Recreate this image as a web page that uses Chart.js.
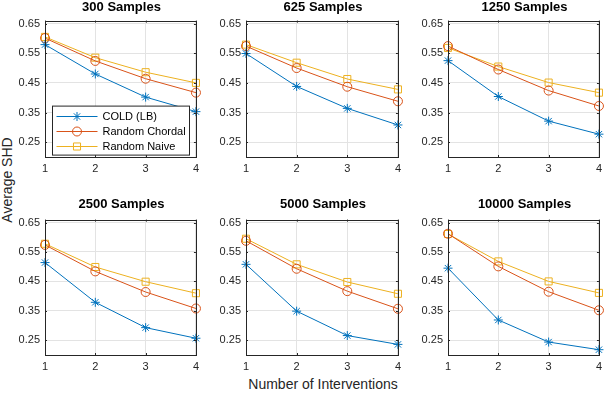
<!DOCTYPE html>
<html>
<head>
<meta charset="utf-8">
<script src="https://cdn.jsdelivr.net/npm/chart.js@4.4.1/dist/chart.umd.min.js"></script>
<style>
    body { margin: 0; background: #fff; font-family: 'Liberation Sans', Arial, Helvetica, sans-serif; }
    #wrap { position: relative; width: 607px; height: 397px; overflow: hidden; }
    #wrap canvas { position: absolute; }
    .title { position: absolute; font-weight: bold; font-size: 13px; color: #000; text-align: center; line-height: 13px; }
    .axis-label { position: absolute; font-size: 14px; color: #262626; white-space: nowrap; line-height: 14px; }
</style>
</head>
<body>
<div id="wrap">
    <div class="axis-label" id="ylab" style="left:7px; top:180px; transform: translate(-50%, -50%) rotate(-90deg);">Average SHD</div>
    <div class="axis-label" style="left:323px; top:384px; transform: translate(-50%, -50%);">Number of Interventions</div>
</div>
<script>
// ==================== DATA ====================
const interventions = ['1', '2', '3', '4'];
const panelTitles = ['300 Samples', '625 Samples', '1250 Samples', '2500 Samples', '5000 Samples', '10000 Samples'];
const seriesNames = ['COLD (LB)', 'Random Chordal', 'Random Naive'];
const yTicks = [0.25, 0.35, 0.45, 0.55, 0.65];

// one row per panel, in panelTitles order
const coldLB = [
    [0.579, 0.480, 0.402, 0.353],
    [0.549, 0.438, 0.364, 0.308],
    [0.525, 0.404, 0.321, 0.277],
    [0.514, 0.379, 0.293, 0.257],
    [0.508, 0.349, 0.266, 0.236],
    [0.495, 0.319, 0.244, 0.218]
];
const randomChordal = [
    [0.601, 0.524, 0.464, 0.417],
    [0.574, 0.500, 0.437, 0.388],
    [0.574, 0.495, 0.424, 0.372],
    [0.574, 0.484, 0.414, 0.358],
    [0.588, 0.493, 0.417, 0.357],
    [0.612, 0.501, 0.415, 0.352]
];
const randomNaive = [
    [0.605, 0.535, 0.486, 0.450],
    [0.579, 0.518, 0.463, 0.428],
    [0.568, 0.505, 0.451, 0.417],
    [0.578, 0.499, 0.449, 0.410],
    [0.595, 0.508, 0.448, 0.408],
    [0.611, 0.518, 0.450, 0.411]
];

// ==================== LAYOUT ====================
const colLeft = [45, 246, 448];
const colRight = [198, 400, 601];
const rowTop = [15, 214];
const rowBottom = [157, 355];
const titleY = [6, 203];
const Y_AXIS_W = 45, X_AXIS_H = 22, PAD = 6;

const axisColor = '#262626';
const tickFont = { family: "'Liberation Sans', Arial, Helvetica, sans-serif", size: 11 };

const seriesStyle = [
    { color: '#0072BD', pointStyle: 'star', radius: 4.5 },
    { color: '#D95319', pointStyle: 'circle', radius: 4.5 },
    { color: '#EDB120', pointStyle: 'rect', radius: 5 }
];

// box around plot + small inward ticks (matlab look)
const boxPlugin = {
    id: 'boxPlugin',
    afterDatasetsDraw(chart) {
        const { ctx, chartArea: a, scales } = chart;
        ctx.save();
        ctx.strokeStyle = axisColor;
        ctx.lineWidth = 1;
        ctx.beginPath();
        yTicks.forEach(v => {
            const y = Math.round(scales.y.getPixelForValue(v)) + 0.5;
            ctx.moveTo(a.left, y); ctx.lineTo(a.left + 2, y);
            ctx.moveTo(a.right, y); ctx.lineTo(a.right - 2, y);
        });
        interventions.forEach((_, i) => {
            const x = Math.round(scales.x.getPixelForValue(i)) + 0.5;
            ctx.moveTo(x, a.bottom); ctx.lineTo(x, a.bottom - 2);
            ctx.moveTo(x, a.top); ctx.lineTo(x, a.top + 2);
        });
        ctx.stroke();
        ctx.strokeRect(Math.round(a.left) + 0.5, Math.round(a.top) + 0.5,
            Math.round(a.right - a.left), Math.round(a.bottom - a.top));
        ctx.restore();
    }
};

// legend box drawn inside the first panel
const insideLegend = {
    id: 'insideLegend',
    afterDraw(chart, args, opts) {
        if (!opts.show) return;
        const { ctx, chartArea: a } = chart;
        const x0 = a.left + 7.5, y0 = a.top + 85.5, w = 137, h = 49;
        ctx.save();
        ctx.fillStyle = '#fff';
        ctx.fillRect(x0, y0, w, h);
        ctx.strokeStyle = axisColor;
        ctx.lineWidth = 1;
        ctx.strokeRect(x0, y0, w, h);
        ctx.font = "11px 'Liberation Sans', Arial, Helvetica, sans-serif";
        ctx.textBaseline = 'middle';
        chart.data.datasets.forEach((ds, i) => {
            const y = Math.round(y0 + 10 + i * 15) + 0.5;
            ctx.strokeStyle = ds.borderColor;
            ctx.lineWidth = 1;
            ctx.beginPath();
            ctx.moveTo(x0 + 4, y);
            ctx.lineTo(x0 + 45, y);
            ctx.stroke();
            ctx.fillStyle = 'rgba(0,0,0,0)';
            ctx.strokeStyle = ds.pointBorderColor;
            Chart.helpers.drawPoint(ctx, {
                pointStyle: ds.pointStyle, radius: ds.pointRadius, borderWidth: 1, rotation: 0
            }, x0 + 24.5, y);
            ctx.fillStyle = '#000';
            ctx.fillText(ds.label, x0 + 50, y);
        });
        ctx.restore();
    }
};

// ==================== CHARTS ====================
const wrap = document.getElementById('wrap');

panelTitles.forEach((title, p) => {
    const r = Math.floor(p / 3), c = p % 3;
    const L = colLeft[c], R = colRight[c], T = rowTop[r], B = rowBottom[r];

    const canvas = document.createElement('canvas');
    const cw = (R - L) + Y_AXIS_W + PAD, chh = (B - T) + PAD + X_AXIS_H;
    canvas.width = cw; canvas.height = chh;
    canvas.style.left = (L - Y_AXIS_W) + 'px';
    canvas.style.top = (T - PAD) + 'px';
    canvas.style.width = cw + 'px';
    canvas.style.height = chh + 'px';
    wrap.appendChild(canvas);

    const t = document.createElement('div');
    t.className = 'title';
    t.textContent = title;
    t.style.left = L + 'px';
    t.style.width = (R - L) + 'px';
    t.style.top = (titleY[r] - 6) + 'px';
    wrap.appendChild(t);

    const rows = [coldLB[p], randomChordal[p], randomNaive[p]];
    new Chart(canvas, {
        type: 'line',
        data: {
            labels: interventions,
            datasets: rows.map((vals, i) => ({
                label: seriesNames[i],
                data: vals,
                borderColor: seriesStyle[i].color,
                borderWidth: 1,
                backgroundColor: 'rgba(0,0,0,0)',
                pointStyle: seriesStyle[i].pointStyle,
                pointRadius: seriesStyle[i].radius,
                pointBorderColor: seriesStyle[i].color,
                pointBackgroundColor: 'rgba(0,0,0,0)',
                pointBorderWidth: 1,
                tension: 0,
                fill: false
            }))
        },
        options: {
            responsive: false,
            animation: false,
            devicePixelRatio: 1,
            layout: { padding: { top: PAD, right: PAD, left: 0, bottom: 0 }, autoPadding: false },
            plugins: {
                legend: { display: false },
                tooltip: { enabled: false },
                insideLegend: { show: p === 0 }
            },
            scales: {
                x: {
                    type: 'category',
                    offset: false,
                    grid: { color: '#e3e3e3', drawTicks: false },
                    border: { display: false },
                    ticks: { color: axisColor, font: tickFont, padding: 5, maxRotation: 0 },
                    afterFit: s => { s.height = X_AXIS_H; }
                },
                y: {
                    min: 0.2,
                    max: 0.66,
                    grid: { color: '#e3e3e3', drawTicks: false },
                    border: { display: false },
                    afterBuildTicks: s => { s.ticks = yTicks.map(v => ({ value: v })); },
                    ticks: { color: axisColor, font: tickFont, padding: 5, callback: v => v.toFixed(2) },
                    afterFit: s => { s.width = Y_AXIS_W; }
                }
            }
        },
        plugins: [boxPlugin, insideLegend]
    });
});
</script>
</body>
</html>
